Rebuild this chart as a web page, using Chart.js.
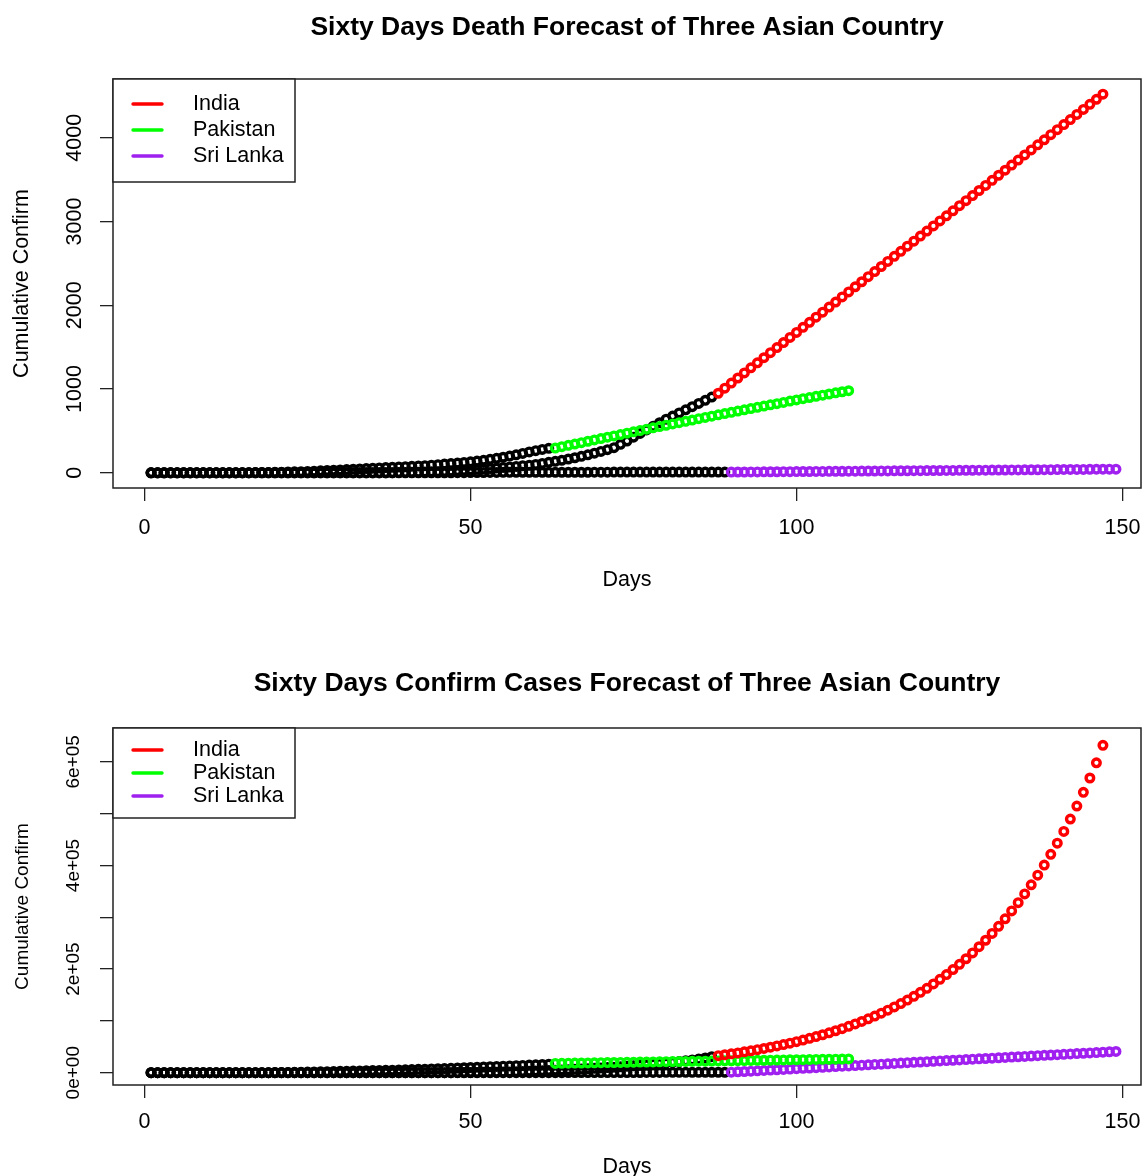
<!DOCTYPE html>
<html lang="en">
<head>
<meta charset="UTF-8" />
<title>Sixty Days Forecast of Three Asian Country</title>
<script src="https://cdn.jsdelivr.net/npm/chart.js"></script>
<style>
  body { margin: 0; background: #fff; }
  .panel { position: absolute; left: 0; }
  #deathPanel { top: 0; }
  #confirmPanel { top: 620px; }
</style>
</head>
<body>
<div class="panel" id="deathPanel"><canvas id="deathChart" width="1143" height="620"></canvas></div>
<div class="panel" id="confirmPanel"><canvas id="confirmChart" width="1143" height="556"></canvas></div>
<script>
// ---- data ----
const countries = ['India', 'Pakistan', 'Sri Lanka'];
const countryColors = ['#ff0000', '#00ff00', '#a020f0'];
const dayTicks = [0, 50, 100, 150];
const deathTicks = [0, 1000, 2000, 3000, 4000];
const confirmTicks = [0, 100000, 200000, 300000, 400000, 500000, 600000];
const confirmTickLabels = ['0e+00', '', '2e+05', '', '4e+05', '', '6e+05'];

// deaths: history (black) starts at day 1, forecast starts at the day given
const indiaDeathHist = [
  0, 0, 0, 0, 0, 0, 0, 0, 0, 0, 0, 0, 0, 0, 0, 0, 0, 0, 0, 0,
  0, 0, 0, 0, 0, 0, 0, 0, 0, 0, 0, 0, 0, 0, 0,
  1, 1, 2, 3, 5, 6, 8, 10, 12, 14, 17, 21, 25, 30, 35,
  40, 45, 51, 58, 64, 70, 77, 85, 92, 100, 112, 125, 137, 150, 165,
  180, 197, 215, 235, 255, 277, 300, 340, 380, 425, 470, 512, 555, 598, 640,
  678, 715, 752, 790, 828, 865, 905
];
const pakistanDeathHist = [
  0, 0, 0, 0, 0, 0, 0, 0, 0, 0, 0, 0, 1, 1, 2, 2, 3, 4, 5, 6,
  8, 10, 12, 14, 17, 20, 24, 28, 31, 35, 39, 43, 47, 51, 55, 59, 63, 66, 70, 74,
  78, 82, 86, 92, 98, 104, 110, 117, 124, 132, 140, 150, 161, 173, 186, 200, 215, 232, 250, 265,
  280, 292
];
const sriLankaDeathHist = [
  0, 0, 0, 0, 0, 0, 0, 0, 0, 0, 0, 0, 0, 0, 0, 0, 0, 0, 0, 0,
  0, 0, 0, 0, 0, 0, 0, 0, 0, 0, 0, 0, 0, 0, 0, 0, 0, 0, 0, 0,
  0, 0, 0, 0, 0, 1, 1, 2, 2, 3, 3, 4, 5, 5, 6, 6, 7, 7, 7, 7,
  7, 7, 7, 7, 7, 7, 7, 7, 8, 8, 8, 9, 9, 9, 9, 9, 9, 9, 9, 9,
  9, 9, 9, 9, 9, 9, 9, 9, 9
];
const indiaDeathFcStart = 88;
const indiaDeathFc = [
  950, 1011, 1071, 1132, 1192, 1253, 1313, 1374, 1434, 1495,
  1555, 1616, 1676, 1737, 1797, 1858, 1918, 1979, 2039, 2100,
  2160, 2221, 2281, 2342, 2402, 2463, 2523, 2584, 2644, 2705,
  2765, 2826, 2886, 2947, 3007, 3068, 3128, 3189, 3249, 3310,
  3370, 3431, 3491, 3552, 3612, 3673, 3733, 3794, 3854, 3915,
  3975, 4036, 4096, 4157, 4217, 4278, 4338, 4399, 4459, 4520
];
const pakistanDeathFcStart = 63;
const pakistanDeathFc = [
  295, 312, 328, 344, 360, 377, 393, 409, 425, 441,
  457, 473, 489, 505, 521, 537, 552, 568, 584, 599,
  615, 630, 646, 661, 676, 692, 707, 722, 737, 752,
  767, 782, 797, 812, 826, 841, 856, 870, 885, 899,
  913, 927, 941, 955, 968, 980
];
const sriLankaDeathFcStart = 90;
const sriLankaDeathFc = [
  9, 10, 10, 11, 11, 12, 13, 13, 14, 14, 15, 16, 16, 17, 17, 18, 19, 19, 20, 20,
  21, 22, 22, 23, 23, 24, 25, 25, 26, 26, 27, 28, 28, 29, 29, 30, 31, 31, 32, 32,
  33, 34, 34, 35, 35, 36, 37, 37, 38, 38, 39, 40, 40, 41, 41, 42, 43, 43, 44, 44
];

// confirmed cases
const indiaConfirmHist = [
  3, 3, 3, 3, 3, 3, 3, 3, 3, 3, 3, 3, 3, 3, 3, 3, 3, 3, 3, 3,
  3, 3, 3, 3, 3, 3, 3, 3, 3, 3, 3, 3, 3,
  5, 6, 28, 30, 31, 34, 40,
  50, 65, 80, 95, 110, 130, 170, 230, 320, 420,
  540, 680, 850, 1050, 1300, 1600, 1950, 2350, 2800, 3300,
  3800, 4300, 4800, 5300, 5900, 6500, 7100, 7800, 8500, 9200,
  10000, 10800, 11600, 12500, 13400, 14400, 15400, 16500, 17600, 18800,
  20100, 21500, 23000, 24600, 26300, 28400, 31000
];
const pakistanConfirmHist = [
  2, 2, 2, 2, 2, 4, 4, 4, 5, 5, 5, 5, 5, 5, 5, 20, 50, 100, 180, 300,
  450, 600, 800, 1000, 1200, 1450, 1700, 2000, 2300, 2600,
  2900, 3200, 3500, 3800, 4100, 4400, 4700, 5000, 5300, 5700,
  6100, 6500, 6900, 7300, 7700, 8100, 8600, 9100, 9600, 10100,
  10600, 11100, 11600, 12100, 12600, 13100, 13600, 14100, 14700, 15300, 15900, 16500
];
const sriLankaConfirmHist = [
  1, 1, 1, 1, 1, 1, 1, 1, 1, 1, 1, 1, 1, 1, 1, 1, 1, 1, 1, 1,
  1, 1, 1, 1, 1, 1, 1, 1, 1, 1, 1, 1, 1, 1, 1, 1, 1, 1, 1, 1,
  2, 3, 6, 10, 18, 28, 42, 52, 60, 70,
  78, 87, 97, 102, 106, 113, 122, 143, 151, 159,
  166, 176, 178, 185, 189, 197, 198, 210, 233, 238,
  244, 271, 304, 330, 368, 420, 460, 523, 588, 690,
  750, 797, 824, 847, 869, 889, 915, 925, 935
];
const indiaConfirmFcStart = 88;
const indiaConfirmFc = [
  33000, 34700, 36400, 38300, 40300, 42300, 44500, 46800, 49200, 51700,
  54300, 57100, 60000, 63100, 66300, 69700, 73300, 77000, 81000, 85100,
  89500, 94100, 98900, 104000, 109300, 114900, 120800, 127000, 133500, 140300,
  147500, 155100, 163000, 171400, 180200, 189400, 199100, 209300, 220000, 231300,
  243200, 255700, 268800, 282500, 297000, 312300, 328300, 345100, 362800, 381400,
  400900, 421500, 443100, 465800, 489700, 514800, 541200, 568900, 598100, 632000
];
const pakistanConfirmFcStart = 63;
const pakistanConfirmFc = [
  18000, 18190, 18380, 18570, 18760, 18950, 19140, 19330, 19520, 19710,
  19900, 20090, 20280, 20470, 20660, 20850, 21040, 21230, 21420, 21610,
  21800, 21990, 22180, 22370, 22560, 22750, 22940, 23130, 23320, 23510,
  23700, 23890, 24080, 24270, 24460, 24650, 24840, 25030, 25220, 25410,
  25600, 25790, 25980, 26170, 26360, 26550
];
const sriLankaConfirmFcStart = 90;
const sriLankaConfirmFc = [
  1000, 1680, 2360, 3030, 3710, 4390, 5070, 5750, 6420, 7100,
  7780, 8460, 9140, 9810, 10490, 11170, 11850, 12530, 13200, 13880,
  14560, 15240, 15920, 16590, 17270, 17950, 18630, 19310, 19980, 20660,
  21340, 22020, 22700, 23370, 24050, 24730, 25410, 26090, 26760, 27440,
  28120, 28800, 29480, 30150, 30830, 31510, 32190, 32870, 33540, 34220,
  34900, 35580, 36260, 36930, 37610, 38290, 38970, 39650, 40320, 41000
];

// ---- drawing ----
const FONT = "'Liberation Sans', Arial, sans-serif";

function toPoints(startDay, values) {
  return values.map((v, i) => ({ x: startDay + i, y: v }));
}

function series(points, color) {
  return {
    data: points,
    showLine: false,
    pointStyle: 'circle',
    pointRadius: 3.8,
    pointBorderWidth: 3.4,
    pointBackgroundColor: 'rgba(0,0,0,0)',
    pointBorderColor: color,
    borderColor: color
  };
}

// R-style plot box plus the boxed legend in the top-left corner
const rBoxPlugin = {
  id: 'rBox',
  afterDatasetsDraw(chart, args, opts) {
    const { ctx, chartArea: a } = chart;
    ctx.save();
    ctx.strokeStyle = '#222';
    ctx.lineWidth = 1.5;
    ctx.strokeRect(a.left, a.top, a.right - a.left, a.bottom - a.top);
    ctx.fillStyle = '#fff';
    ctx.fillRect(a.left, a.top, opts.legendW, opts.legendH);
    ctx.strokeRect(a.left, a.top, opts.legendW, opts.legendH);
    ctx.font = opts.fontSize + 'px ' + FONT;
    ctx.textBaseline = 'middle';
    ctx.textAlign = 'left';
    ctx.lineCap = 'round';
    countries.forEach((name, i) => {
      const y = a.top + opts.rowTop + i * opts.rowGap;
      ctx.strokeStyle = countryColors[i];
      ctx.lineWidth = 3.4;
      ctx.beginPath();
      ctx.moveTo(a.left + 20, y);
      ctx.lineTo(a.left + 49, y);
      ctx.stroke();
      ctx.fillStyle = '#000';
      ctx.fillText(name, a.left + 80, y);
    });
    ctx.restore();
  }
};

function makeChart(id, p) {
  return new Chart(document.getElementById(id), {
    type: 'scatter',
    data: { datasets: p.datasets },
    plugins: [rBoxPlugin],
    options: {
      responsive: false,
      animation: false,
      events: [],
      layout: { autoPadding: false, padding: { left: 0, right: 2, top: 0, bottom: 0 } },
      plugins: {
        legend: { display: false },
        tooltip: { enabled: false },
        title: {
          display: true, text: p.title, color: '#000', fullSize: false,
          font: { family: FONT, size: 26.5, weight: 'bold', lineHeight: 1.2 },
          padding: p.titlePad
        },
        rBox: p.legend
      },
      scales: {
        x: {
          type: 'linear', min: -4.84, max: 152.84,
          afterBuildTicks: s => { s.ticks = dayTicks.map(v => ({ value: v })); },
          afterFit: s => { s.height = p.xAxisH; s.paddingLeft = 0; s.paddingRight = 0; },
          grid: { drawOnChartArea: false, tickLength: 13, color: '#222', lineWidth: 1.3 },
          border: { display: false },
          ticks: { color: '#000', font: { family: FONT, size: 21.5 }, padding: p.xTickPad, maxRotation: 0, autoSkip: false },
          title: {
            display: true, text: 'Days', color: '#000',
            font: { family: FONT, size: 21.5, lineHeight: p.xTitleLH },
            padding: { top: 0, bottom: p.xTitlePad }
          }
        },
        y: {
          type: 'linear', min: p.yMin, max: p.yMax,
          afterBuildTicks: s => { s.ticks = p.yTicks.map(v => ({ value: v })); },
          afterFit: s => { s.width = 113; s.paddingTop = 0; s.paddingBottom = 0; },
          grid: { drawOnChartArea: false, tickLength: 13, color: '#222', lineWidth: 1.3 },
          border: { display: false },
          ticks: {
            color: '#000', font: { family: FONT, size: p.yFont },
            padding: p.yTickPad, minRotation: 90, maxRotation: 90,
            crossAlign: 'center', autoSkip: false,
            callback: p.yLabel
          },
          title: {
            display: true, text: 'Cumulative Confirm', color: '#000',
            font: { family: FONT, size: p.yFont, lineHeight: 1.2 },
            padding: { top: p.yTitlePad, bottom: 0 }
          }
        }
      }
    }
  });
}

makeChart('deathChart', {
  title: 'Sixty Days Death Forecast of Three Asian Country',
  titlePad: { top: 11.4, bottom: 35.8 },
  xAxisH: 132, xTickPad: 14, xTitlePad: 27, xTitleLH: 1.2,
  yMin: -181, yMax: 4701, yTicks: deathTicks, yFont: 21.5, yTickPad: 1.5, yTitlePad: 9.1,
  yLabel: v => String(v),
  legend: { legendW: 182, legendH: 103, rowTop: 25, rowGap: 26, fontSize: 21.5 },
  datasets: [
    series(toPoints(indiaDeathFcStart, indiaDeathFc), countryColors[0]),
    series(toPoints(pakistanDeathFcStart, pakistanDeathFc), countryColors[1]),
    series(toPoints(sriLankaDeathFcStart, sriLankaDeathFc), countryColors[2]),
    series(toPoints(1, indiaDeathHist), '#000'),
    series(toPoints(1, pakistanDeathHist), '#000'),
    series(toPoints(1, sriLankaDeathHist), '#000')
  ]
});

makeChart('confirmChart', {
  title: 'Sixty Days Confirm Cases Forecast of Three Asian Country',
  titlePad: { top: 47.4, bottom: 28.8 },
  xAxisH: 91, xTickPad: 11, xTitlePad: -2, xTitleLH: 1,
  yMin: -23700, yMax: 665400, yTicks: confirmTicks, yFont: 19, yTickPad: 0, yTitlePad: 10.9,
  yLabel: (v, i) => confirmTickLabels[i],
  legend: { legendW: 182, legendH: 90, rowTop: 22, rowGap: 23, fontSize: 21.5 },
  datasets: [
    series(toPoints(indiaConfirmFcStart, indiaConfirmFc), countryColors[0]),
    series(toPoints(pakistanConfirmFcStart, pakistanConfirmFc), countryColors[1]),
    series(toPoints(sriLankaConfirmFcStart, sriLankaConfirmFc), countryColors[2]),
    series(toPoints(1, indiaConfirmHist), '#000'),
    series(toPoints(1, pakistanConfirmHist), '#000'),
    series(toPoints(1, sriLankaConfirmHist), '#000')
  ]
});
</script>
</body>
</html>
